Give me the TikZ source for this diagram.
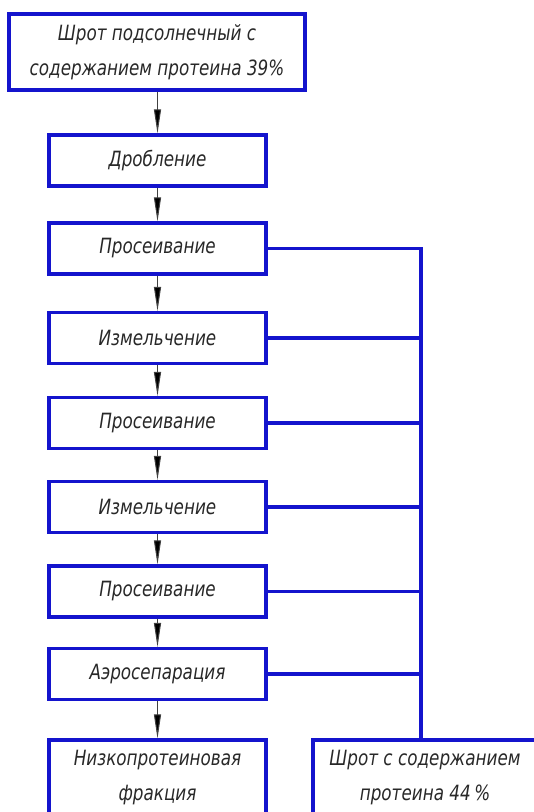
\documentclass[tikz,border=0pt]{standalone}
\usepackage{fontspec}
\newfontfamily\gostfont[FakeStretch=0.8]{DejaVu Sans}
\usetikzlibrary{arrows.meta}
\definecolor{lineblue}{RGB}{20,20,205}
\definecolor{txt}{RGB}{40,40,40}
\begin{document}
\begin{tikzpicture}[x=1pt,y=-1pt,
  procbox/.style={draw=lineblue,line width=3.1pt,fill=white,minimum width=217pt,minimum height=51pt,inner sep=0pt,
    text=txt,font=\gostfont\itshape\fontsize{21}{35}\selectfont,align=center},
  flow/.style={draw=black!75,line width=1pt,-{Triangle[length=24pt,width=7pt,fill=black]}},
  bus/.style={draw=lineblue,line width=3.1pt}]
\useasboundingbox (0,0) rectangle (534,812);
\fill[white] (0,0) rectangle (534,812);
\node[procbox,minimum width=296pt,minimum height=76pt] (top) at (157,52) {Шрот подсолнечный с\\содержанием протеина 39\%};
\node[procbox] (b2) at (157.5,160.5) {Дробление};
\node[procbox] (b3) at (157.5,248.5) {Просеивание};
\node[procbox] (b4) at (157.5,338) {Измельчение};
\node[procbox] (b5) at (157.5,423) {Просеивание};
\node[procbox] (b6) at (157.5,507) {Измельчение};
\node[procbox] (b7) at (157.5,591.5) {Просеивание};
\node[procbox] (b8) at (157.5,674) {Аэросепарация};
\node[procbox,minimum height=76pt] (bl) at (157.5,778) {Низкопротеиновая\\фракция};
\node[procbox,minimum width=224pt,minimum height=76pt] (br) at (425,778) {Шрот с содержанием\\протеина 44\,\%};
\coordinate (busx) at (421,0);
\draw[flow] (top.south -| b2.north) -- (b2.north);
\draw[flow] (b2) -- (b3);
\draw[flow] (b3) -- (b4);
\draw[flow] (b4) -- (b5);
\draw[flow] (b5) -- (b6);
\draw[flow] (b6) -- (b7);
\draw[flow] (b7) -- (b8);
\draw[flow] (b8) -- (bl);
\draw[bus] (b3.east) -| (br.north -| busx);
\foreach \b in {b4,b5,b6,b7,b8}{
  \draw[bus] (\b.east) -- (\b.east -| busx);
}
\end{tikzpicture}
\end{document}
